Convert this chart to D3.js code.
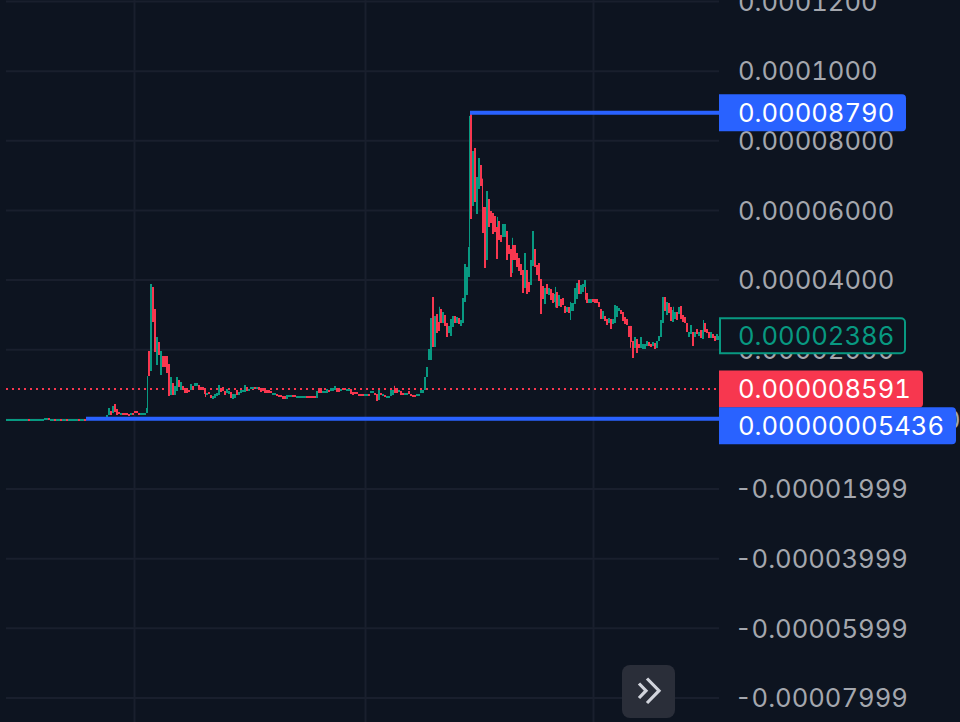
<!DOCTYPE html>
<html>
<head>
<meta charset="utf-8">
<script src="https://cdn.jsdelivr.net/npm/d3@7/dist/d3.min.js"></script>
<style>
  html, body { margin: 0; padding: 0; background: #0d1420; overflow: hidden; }
  svg { display: block; font-family: Inter, "Liberation Sans", sans-serif; font-variant-numeric: tabular-nums; font-feature-settings: "tnum"; }
</style>
</head>
<body>
<svg id="chart" width="960" height="722"></svg>
<script>
// all prices are in millionths (0.000001)
const opens = [
  .04,.04,.04,.04,.04,.04,.04,.04,.04,.04, .04,.08,.04,.04,.04,.04,.04,.04,.04,.15,
  .15,.25,.04,.04,.08,.04,.04,.08,.04,.04, .08,.04,.04,.04,.04,.04,.08,.04,.04,.08,
  .1,.1,.15,.2,.2,.2,.25,.5,.3,.4,
  .6,1.15,2.3,1.7,4.3,2.9,2.0,1.4,1.7,1.6,
  1.6,1.4,1.1,1.7,2.3,2.3,1.8,1.4,1.5,1.5,
  1.7,19.5,13.8,37.9,31.6,15.5,22.1,12.6,18.1,18.1,
  18.1,15.8,6.9,10.3,6.9,8.0,11.2,8.3,9.5,8.9,
  8.9,8.3,8.3,9.5,9.5,9.5,9.8,9.2,9.2,8.9,
  6.9,7.7,6.9,5.7,6.0,6.6,6.9,8.9,9.2,8.0,
  7.5,7.2,7.7,5.7,6.0,8.3,6.9,7.5,7.7,7.7,
  9.2,8.0,8.6,8.7,9.2,8.8,9.2,8.9,8.9,8.9,
  8.3,8.3,8.0,6.9,6.9,7.2,6.9,7.0,6.6,6.6,
  5.7,6.3,6.3,6.9,6.9,6.0,6.0,6.0,6.0,6.0,
  6.6,6.6,6.6,6.5,6.6,6.0,8.9,8.9,7.5,7.5,
  7.5,8.3,8.0,8.0,8.3,8.9,8.9,8.3,8.9,8.9,
  8.0,8.0,8.6,7.7,7.7,7.7,7.2,7.2,7.2,6.6,
  6.6,7.2,7.5,7.5,7.5,7.2,5.5,7.5,6.6,7.0,
  6.3,6.3,6.6,6.9,8.9,8.9,7.7,8.0,7.5,6.9,
  6.9,8.0,7.2,7.0,7.0,6.6,6.6,7.5,7.5,8.3,
  12.1,16.9,16.9,35,20.7,30.1,27.8,31.6,27.6,29.9,
  27.6,24.7,23.8,26.4,29.6,27.6,29,26.8,27.6,33.6,
  35.6,40.8,87.9,61.2,77.8,58.9,66,72.9,60.9,60.9,
  45.6,63.2,59.7,59.1,58.3,55.1,56.8,52.8,52.3,52.3,
  54,49.9,48.8,49.9,49.9,47.7,46.2,44.5,42.8,37.6,
  42.8,39.3,38.5,43.9,48.8,44.2,44.8,40.2,38.2,32.9,
  38.7,35.6,37.3,36.2,33.6,36.5,32.4,34.5,34.8,32.4,
  30.7,32.1,31,31,33,34.5,40,36,36.5,37.9,
  36.2,33.3,33.3,34.5,34.5,34.5,33.6,31.6,28.7,29.5,
  28.7,27.6,28.7,27.3,27.6,29.3,30.9,31.2,30.7,29.3,
  28.7,26.7,26.7,22.4,20.4,22.9,21.5,20.4,20.1,20.1,
  21,22.1,21.5,21,21.8,20.4,22.4,23.5,27.6,35,
  29.9,33.3,32.1,27.8,28.7,30.7,30,32.4,29.9,29.3,
  27.6,23.5,24.4,25,23.5,25.8,23.8,25.5,23,27.5,
  25.8,25,23.2,24.4,23.8,22.7,22.7
];
const closes = [
  .08,.08,.08,.08,.08,.08,.08,.08,.08,.08, .08,.04,.08,.08,.08,.08,.08,.08,.08,.25,
  .25,.1,.08,.08,.04,.08,.08,.04,.08,.08, .04,.08,.08,.08,.08,.08,.04,.08,.08,.04,
  .2,.25,.3,.3,.35,.35,.4,.3,.5,.6,
  1.15,3.2,1.15,3.7,2.0,1.15,1.4,1.7,1.5,1.4,
  1.3,1.1,1.7,1.4,2.0,1.8,1.4,1.6,1.7,1.7,
  3.2,12.3,38.8,27.8,19.2,23.5,18.4,19.5,14.9,14.9,
  13.2,6.6,12.1,6.9,9.5,12.1,9.2,10.6,8.3,7.5,
  7.5,7.7,10.0,8.3,10.3,10.3,8.3,8.3,8.3,7.2,
  7.5,7.2,6.0,6.6,7.2,7.5,9.8,7.7,8.0,6.9,
  8.6,8.0,6.0,7.2,7.2,6.9,7.7,8.3,8.3,9.8,
  8.0,8.6,9.2,9.2,8.8,9.2,8.6,7.7,8.0,7.5,
  7.5,7.5,7.5,7.5,7.5,6.6,6.3,6.3,5.7,5.7,
  6.9,6.9,6.9,6.3,6.3,6.6,6.6,6.5,6.6,6.5,
  6.0,6.0,6.0,5.9,6.0,8.0,7.5,7.5,8.0,8.0,
  8.6,7.7,8.9,8.9,9.5,7.7,7.7,8.6,8.3,8.3,
  8.6,8.6,7.2,6.9,7.2,7.2,6.9,6.9,6.9,7.2,
  7.2,6.9,8.0,8.0,6.9,5.2,8.3,6.9,7.2,6.5,
  6.6,6.6,8.3,8.3,7.5,7.5,8.3,6.9,6.9,7.5,
  7.5,7.2,6.6,6.6,6.6,7.2,7.2,8.3,8.3,12.1,
  14.9,20.1,29,20.7,29.6,24.7,25.3,27.6,30.7,26.7,
  23.5,26.7,28.7,29.6,27.6,29.3,27.3,28.4,34.8,44.5,
  43.6,49.4,57.4,76.9,62.3,69.5,74.9,66.8,53.4,43.4,
  65.5,55.1,56.3,53.1,53.7,45.9,51.4,50.8,56,56,
  45.6,47.4,40.8,45.6,45.6,43.6,42.5,41.3,36.2,47.7,
  35.9,36.5,45.6,54,43.6,41.3,39.6,30,34.5,37.6,
  35.9,37.6,34.2,33.3,36,31.8,35.6,32.2,32.7,30.4,
  32.1,30.4,33.3,33.3,37.6,39,35.9,38.4,38.7,39.9,
  33.3,34.5,34.5,33.6,33.3,33.3,32.1,28.7,31,28.1,
  27,29,25.8,28.7,32.7,32.4,31.8,30,28.1,27.3,
  27,23.5,22,17.5,23.5,18.9,20.4,23.5,21.5,21.5,
  22.4,21,20.7,22.1,20.1,22.4,23.8,28.4,35,31,
  33.6,30.4,28.1,31.2,30.7,28.4,32,28.7,27.8,27.6,
  25,25,27,21,25,24.4,25,23.2,25.5,25,
  24.7,23.2,25,23.2,22.4,24.4,23.86
];

// only the wicks long enough to see
const wickAt   = [70.5,99.5,194,216.5,231.5,238,245.5,253,260.5,274.5,282,289.5,304.5,312,333.5,348.5];
const wickHigh = [12.3,7.7,9.5,32.2,87,69,58,52,41.6,37.9,33.6,39,32.7,26.7,32.2,28.4];
const wickLow  = [1.7,6.3,7.5,26.1,49.4,53.4,48.8,41.9,37,32,28.4,34.2,29.3,20.4,30,25.5];
const wickRise = [1,0,0,1,1,0,1,1,1,1,1,0,0,0,1,1];

const priceTicks = [120,100,80,60,40,20,0,-20,-40,-60,-80];
const priceTickLabels = ["0.0001200","0.0001000","0.00008000","0.00006000","0.00004000","0.00002000",
  "0.000000000000","-0.00001999","-0.00003999","-0.00005999","-0.00007999"];
const timeGrid = [64,179.5,293.5];

const highPrice = 87.9, lowPrice = 0.05436, lastPrice = 8.591, markPrice = 23.86;
const highStart = 232, lowStart = 40;

const UP = "#089981", DOWN = "#f7374f", BLUE = "#2962ff", GRID = "#191f2d", TEXT = "#a4a7ae";

const svg = d3.select("#chart");
const xScale = d3.scaleLinear().domain([0, opens.length]).range([6, 720]);
const yScale = d3.scaleLinear().domain([-80, 120]).range([697.5, 1]);
const axisX = 719;
const fontSize = 25.6;

// grid comes with the axes
svg.append("g")
  .attr("transform", "translate(0,722)")
  .call(d3.axisBottom(xScale).tickValues(timeGrid).tickSize(-722).tickFormat(""))
  .call(g => g.select(".domain").remove())
  .call(g => g.selectAll("line").attr("stroke", GRID).attr("stroke-width", 2));

const yAxis = svg.append("g")
  .attr("transform", `translate(${axisX},0)`)
  .call(d3.axisRight(yScale).tickValues(priceTicks).tickSize(-713).tickPadding(19)
    .tickFormat((d, i) => priceTickLabels[i]));
yAxis.select(".domain").remove();
yAxis.selectAll("line").attr("stroke", GRID).attr("stroke-width", 2);
yAxis.selectAll("text").attr("fill", TEXT).attr("font-size", fontSize).attr("font-family", "Inter")
  .attr("dy", "0.36em")
  .attr("x", d => d < 0 ? 16 : 19);

// last price dotted line
svg.append("line")
  .attr("x1", 6).attr("x2", axisX)
  .attr("y1", yScale(lastPrice)).attr("y2", yScale(lastPrice))
  .attr("stroke", DOWN).attr("stroke-width", 2).attr("stroke-dasharray", "2 4");

// candles
const plot = svg.append("g");
plot.selectAll(".wick")
  .data(wickAt)
  .enter()
  .append("rect")
  .classed("wick", true)
  .attr("x", d => xScale(d))
  .attr("width", 1)
  .attr("y", (d, i) => yScale(wickHigh[i]))
  .attr("height", (d, i) => yScale(wickLow[i]) - yScale(wickHigh[i]))
  .attr("fill", (d, i) => wickRise[i] ? UP : DOWN);

plot.selectAll(".body")
  .data(opens)
  .enter()
  .append("rect")
  .classed("body", true)
  .attr("shape-rendering", "crispEdges")
  .attr("x", (d, i) => xScale(i))
  .attr("width", (d, i) => Math.min(2, axisX - xScale(i)))
  .attr("y", (d, i) => yScale(Math.max(d, closes[i])))
  .attr("height", (d, i) => Math.max(2, Math.abs(yScale(d) - yScale(closes[i]))))
  .attr("fill", (d, i) => closes[i] >= d ? UP : DOWN);

// high and low markers
svg.append("line").attr("x1", xScale(highStart)).attr("x2", axisX)
  .attr("y1", yScale(highPrice)).attr("y2", yScale(highPrice))
  .attr("stroke", BLUE).attr("stroke-width", 4);
svg.append("line").attr("x1", xScale(lowStart)).attr("x2", axisX)
  .attr("y1", yScale(lowPrice)).attr("y2", yScale(lowPrice))
  .attr("stroke", BLUE).attr("stroke-width", 4);

// right hand price tags: flat on the axis side, rounded on the outer side
function tagPath(x0, x1, y0, y1, r) {
  const p = d3.path();
  p.moveTo(x0, y0);
  p.lineTo(x1 - r, y0);
  p.arcTo(x1, y0, x1, y0 + r, r);
  p.lineTo(x1, y1 - r);
  p.arcTo(x1, y1, x1 - r, y1, r);
  p.lineTo(x0, y1);
  p.closePath();
  return p.toString();
}
const tags = svg.append("g");
// shift moves a tag off its price so that it clears the tag above it
function addTag(price, label, right, fill, stroke, color, shift) {
  const cy = yScale(price) + shift;
  const inset = stroke ? 1 : 0;
  tags.append("path")
    .attr("d", tagPath(axisX + inset, right, cy - 18.5 + inset, cy + 18.5 - inset, 4))
    .attr("fill", fill)
    .attr("stroke", stroke || "none")
    .attr("stroke-width", 2);
  tags.append("text")
    .attr("x", 738).attr("y", cy)
    .attr("dy", "0.36em")
    .attr("font-size", fontSize)
    .attr("fill", color)
    .text(label);
}
addTag(markPrice, "0.00002386", 905, "#0d1420", UP, UP, 0);
addTag(lastPrice, "0.000008591", 923, DOWN, null, "#fff", 0);
addTag(highPrice, "0.00008790", 906, BLUE, null, "#fff", 0);
addTag(lowPrice, "0.00000005436", 956, BLUE, null, "#fff", 7);

// scroll to latest button
svg.append("rect").attr("x", 622).attr("y", 665).attr("width", 53).attr("height", 53).attr("rx", 8)
  .attr("fill", "#2a2e39");
svg.append("path")
  .attr("d", "M639,683.5L646,690.7L639,698M647,678.5L659,690.7L647,703")
  .attr("fill", "none").attr("stroke", "#d1d4dc").attr("stroke-width", 3.2);
</script>
</body>
</html>
